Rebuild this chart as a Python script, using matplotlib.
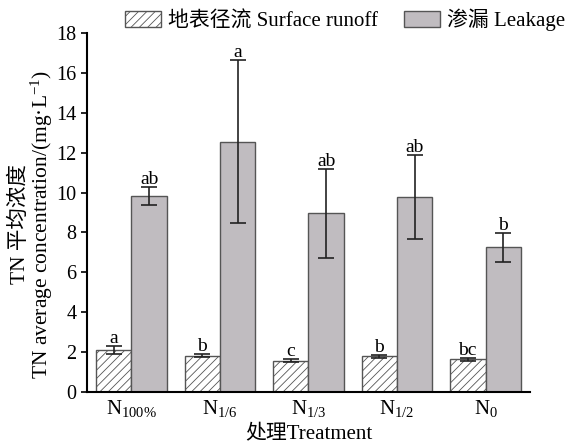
import numpy as np
import matplotlib
matplotlib.use("Agg")
import matplotlib.pyplot as plt

plt.rcParams["font.family"] = ["Liberation Serif", "Noto Sans CJK SC"]
plt.rcParams["mathtext.fontset"] = "custom"
plt.rcParams["mathtext.rm"] = "Liberation Serif"
plt.rcParams["mathtext.it"] = "Liberation Serif:italic"
plt.rcParams["mathtext.bf"] = "Liberation Serif:bold"
plt.rcParams["hatch.linewidth"] = 0.6
plt.rcParams["hatch.color"] = "#444444"

# data
treatments = ["N$_{100\\%}$", "N$_{1/6}$", "N$_{1/3}$", "N$_{1/2}$", "N$_{0}$"]
runoff = [2.1, 1.82, 1.57, 1.80, 1.65]
runoff_err = [0.21, 0.07, 0.08, 0.08, 0.08]
leakage = [9.82, 12.55, 8.95, 9.78, 7.25]
leakage_err = [0.45, 4.1, 2.25, 2.1, 0.72]
runoff_letters = ["a", "b", "c", "b", "bc"]
leakage_letters = ["ab", "a", "ab", "ab", "b"]

x = np.arange(len(treatments))
w = 0.4

fig = plt.figure(figsize=(5.66, 4.45), dpi=100)
ax = fig.add_axes([0.154, 0.119, 0.782, 0.807])

ax.bar(x - w / 2, runoff, w, color="white", edgecolor="#555555", hatch="////",
       linewidth=1.0, label="地表径流 Surface runoff")
ax.bar(x + w / 2, leakage, w, color="#c0bcc0", edgecolor="#555555",
       linewidth=1.0, label="渗漏 Leakage")
ax.errorbar(x - w / 2, runoff, yerr=runoff_err, fmt="none", ecolor="#222222",
            elinewidth=1.2, capsize=6, capthick=1.2)
ax.errorbar(x + w / 2, leakage, yerr=leakage_err, fmt="none", ecolor="#222222",
            elinewidth=1.2, capsize=6, capthick=1.2)

for i in range(len(x)):
    ax.text(x[i] - w / 2, runoff[i] + runoff_err[i] - 0.05, runoff_letters[i],
            ha="center", va="bottom", fontsize=14)
    ax.text(x[i] + w / 2, leakage[i] + leakage_err[i] - 0.05, leakage_letters[i],
            ha="center", va="bottom", fontsize=14)

ax.set_xlim(-0.5, 4.5)
ax.set_ylim(0, 18)
ax.set_yticks(range(0, 19, 2))
ax.set_xticks(x)
ax.set_xticklabels(treatments, fontsize=15)
ax.tick_params(axis="y", labelsize=14.5, direction="out", length=4, width=1.2)
ax.tick_params(axis="x", length=0, pad=4)
for s in ["top", "right"]:
    ax.spines[s].set_visible(False)
for s in ["left", "bottom"]:
    ax.spines[s].set_linewidth(1.5)

ax.set_xlabel("处理Treatment", fontsize=15, labelpad=5)
fig.text(32 / 566, 1 - 224 / 445,
         "TN 平均浓度\nTN average concentration/(mg·L$^{-1}$)",
         rotation=90, ha="center", va="center", multialignment="center",
         fontsize=15.5, linespacing=0.95)

fig.legend(loc="center", bbox_to_anchor=(0.61, 0.955), ncol=2, frameon=False,
           fontsize=15, handlelength=1.7, handleheight=0.75, columnspacing=1.25,
           handletextpad=0.35, borderpad=0, borderaxespad=0)

fig.savefig("out.png", dpi=100)
